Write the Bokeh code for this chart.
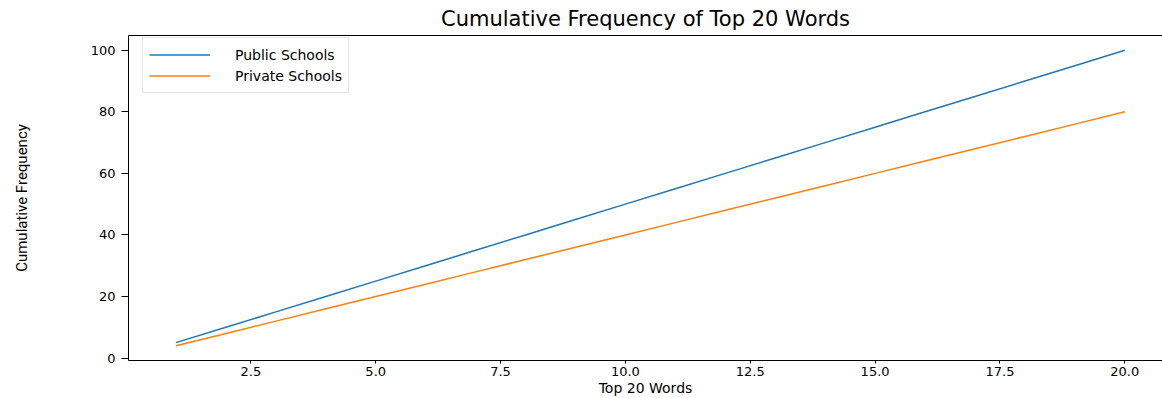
from bokeh.plotting import figure
from bokeh.embed import file_html
from bokeh.resources import INLINE
from bokeh.models import (Range1d, FixedTicker, PrintfTickFormatter, LinearAxis,
                          Legend, LegendItem)

# ---- data ----
words_rank = [1, 2, 3, 4, 5, 6, 7, 8, 9, 10, 11, 12, 13, 14, 15, 16, 17, 18, 19, 20]
public_cum = [5, 10, 15, 20, 25, 30, 35, 40, 45, 50, 55, 60, 65, 70, 75, 80, 85, 90, 95, 100]
private_cum = [4, 8, 12, 16, 20, 24, 28, 32, 36, 40, 44, 48, 52, 56, 60, 64, 68, 72, 76, 80]
series_names = ["Public Schools", "Private Schools"]
x_ticks = [2.5, 5.0, 7.5, 10.0, 12.5, 15.0, 17.5, 20.0]
y_ticks = [0, 20, 40, 60, 80, 100]
title_text = "Cumulative Frequency of Top 20 Words"
x_label = "Top 20 Words"
y_label = "Cumulative Frequency"

BLUE = "#1f77b4"
ORANGE = "#ff7f0e"

p = figure(width=1162, height=398, output_backend="svg", toolbar_location=None,
           x_range=Range1d(0.05, 20.755), y_range=Range1d(-0.8, 104.8),
           min_border_left=128, min_border_right=0, min_border_top=35,
           min_border_bottom=37)
p.background_fill_color = "white"
p.border_fill_color = "white"
p.grid.visible = False
p.outline_line_color = None

p.title.text = title_text
p.title.align = "center"
p.title.text_font = "DejaVu Sans"
p.title.text_font_size = "21px"
p.title.text_font_style = "normal"
p.title.text_color = "black"
p.title.standoff = 9
p.title.offset = 0

r1 = p.line(words_rank, public_cum, line_color=BLUE, line_width=1.5)
r2 = p.line(words_rank, private_cum, line_color=ORANGE, line_width=1.5)

# x axis
xa = p.xaxis[0]
xa.ticker = FixedTicker(ticks=x_ticks)
xa.formatter = PrintfTickFormatter(format="%.1f")
xa.minor_tick_line_color = None
xa.major_tick_out = 3
xa.major_tick_in = 0
xa.major_label_standoff = 3
xa.major_label_text_font = "DejaVu Sans"
xa.major_label_text_font_size = "13px"
xa.major_label_text_color = "black"
xa.axis_label = x_label
xa.axis_label_text_font = "DejaVu Sans"
xa.axis_label_text_font_size = "14px"
xa.axis_label_text_font_style = "normal"
xa.axis_label_text_color = "black"
xa.axis_label_standoff = 1
xa.axis_line_color = "black"

# y axis
ya = p.yaxis[0]
ya.ticker = FixedTicker(ticks=y_ticks)
ya.minor_tick_line_color = None
ya.major_tick_out = 7
ya.major_tick_in = 0
ya.major_label_standoff = 6
ya.major_label_text_font = "DejaVu Sans"
ya.major_label_text_font_size = "13px"
ya.major_label_text_color = "black"
ya.axis_label = y_label
ya.axis_label_text_font = "Roboto"
ya.axis_label_text_font_size = "15px"
ya.axis_label_text_font_style = "normal"
ya.axis_label_text_color = "black"
ya.axis_label_standoff = 57
ya.axis_line_color = "black"

# top spine (no right spine, as the reference is cropped)
top = LinearAxis(ticker=FixedTicker(ticks=[]), major_tick_out=0, major_tick_in=0,
                 minor_tick_out=0, minor_tick_in=0, major_label_standoff=0,
                 major_label_text_font_size="0px", axis_line_color="black")
p.add_layout(top, "above")

legend = Legend(items=[LegendItem(label=series_names[0], renderers=[r1]),
                       LegendItem(label=series_names[1], renderers=[r2])],
                location=(14, 267))
legend.label_text_font = "DejaVu Sans"
legend.label_text_font_size = "14px"
legend.label_text_color = "black"
legend.glyph_width = 61
legend.glyph_height = 21
legend.label_height = 21
legend.label_standoff = 25
legend.spacing = 0
legend.padding = 6
legend.margin = 0
legend.border_line_color = "#cccccc"
legend.border_line_width = 1
legend.background_fill_color = "white"
legend.background_fill_alpha = 0.8
p.add_layout(legend, "center")

open("out.html", "w").write(file_html(p, INLINE))
